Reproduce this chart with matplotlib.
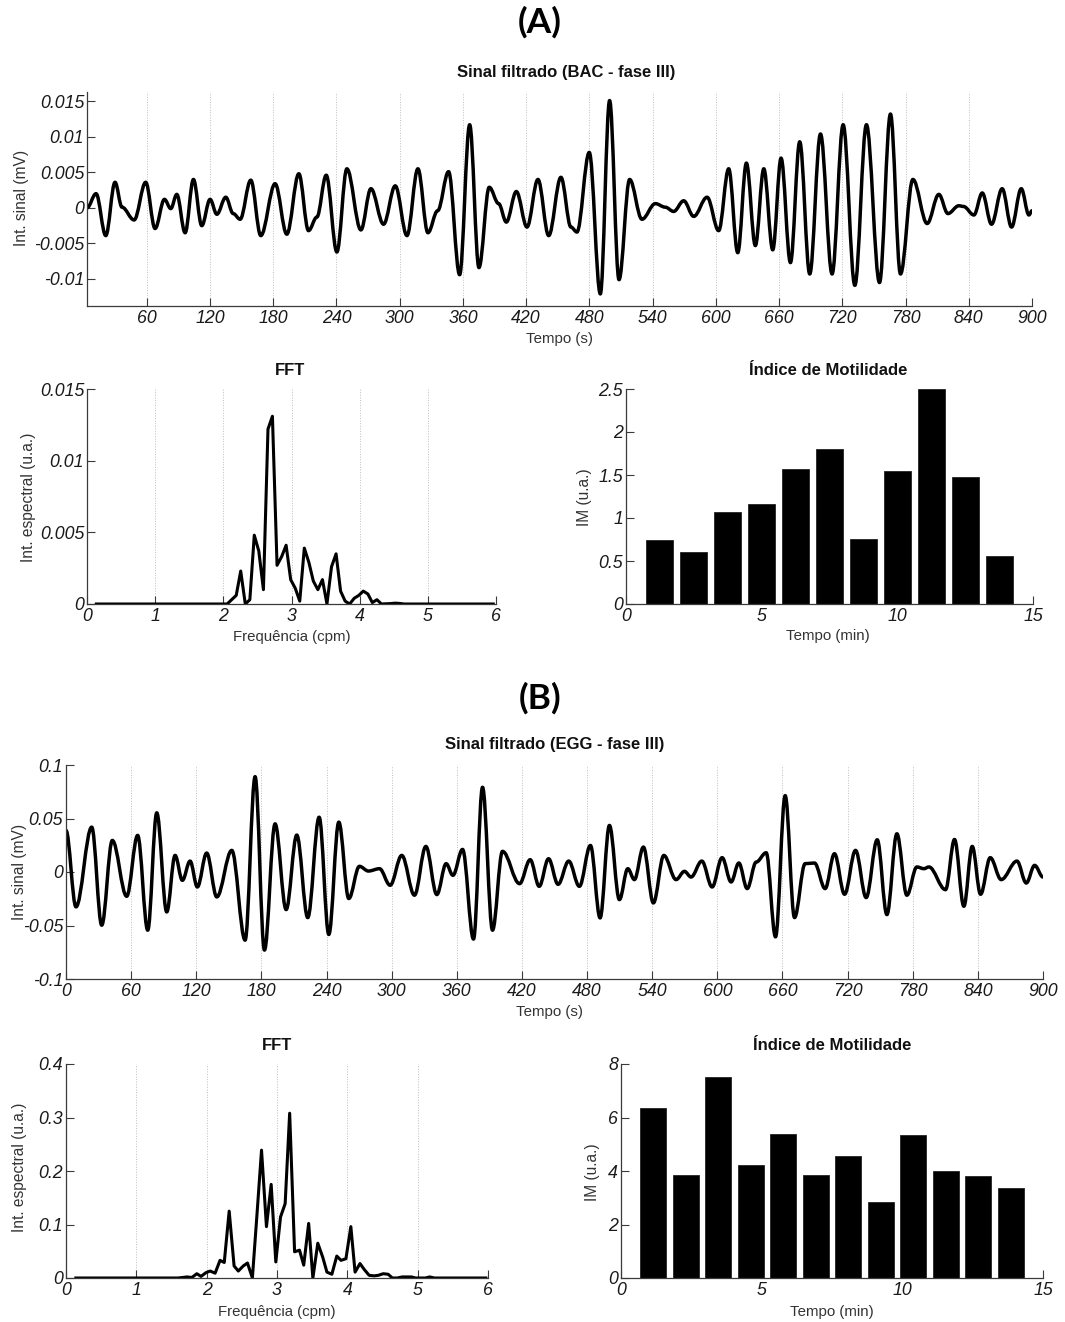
import matplotlib
matplotlib.use("Agg")
import matplotlib.pyplot as plt
from matplotlib.path import Path
from matplotlib.patches import PathPatch

plt.rcParams['font.family'] = ['Liberation Sans', 'DejaVu Sans']
plt.rcParams['axes.unicode_minus'] = False

# ---- (A) BAC - fase III : extremos do sinal filtrado (s, mV)
sig_a_t = [3.3, 11.9, 21.1, 29.9, 36.5, 48.0, 59.0, 67.9, 76.8, 82.8, 88.5, 96.4, 104.3, 112.2,
           120.1, 126.5, 135.0, 142.0, 148.6, 158.7, 168.2, 181.8, 192.9, 204.3, 213.5, 221.4,
           230.3, 240.4, 249.9, 263.2, 272.7, 284.7, 295.8, 306.9, 317.3, 326.8, 336.0, 346.4,
           356.9, 366.4, 375.2, 385.0, 393.9, 401.2, 410.7, 420.8, 431.2, 441.4, 453.0, 462.5,
           468.2, 479.9, 490.4, 499.2, 508.1, 518.2, 529.9, 542.6, 552.0, 560.0, 569.5, 579.0,
           591.7, 602.7, 612.2, 620.8, 629.0, 637.5, 645.5, 654.0, 661.9, 670.8, 679.6, 689.1,
           699.3, 710.3, 720.8, 731.9, 742.9, 755.3, 765.7, 775.2, 787.0, 800.5, 811.6, 820.2,
           830.6, 835.0, 844.9, 852.8, 861.6, 871.7, 880.6, 889.8, 897.1, 900.0]
sig_a_v = [0.0000, 0.0020, -0.0039, 0.0036, 0.0001, -0.0017, 0.0036, -0.0029, 0.0012, -0.0001,
           0.0019, -0.0035, 0.0040, -0.0025, 0.0012, -0.0009, 0.0015, -0.0008, -0.0016, 0.0039,
           -0.0039, 0.0034, -0.0037, 0.0048, -0.0032, -0.0013, 0.0046, -0.0062, 0.0055, -0.0031,
           0.0027, -0.0023, 0.0031, -0.0039, 0.0055, -0.0035, -0.0004, 0.0051, -0.0094, 0.0117,
           -0.0084, 0.0029, 0.0006, -0.0020, 0.0023, -0.0027, 0.0040, -0.0039, 0.0043, -0.0027,
           -0.0034, 0.0078, -0.0121, 0.0151, -0.0101, 0.0040, -0.0016, 0.0006, 0.0001, -0.0005,
           0.0010, -0.0012, 0.0015, -0.0032, 0.0055, -0.0063, 0.0063, -0.0053, 0.0055, -0.0059,
           0.0070, -0.0077, 0.0093, -0.0093, 0.0104, -0.0093, 0.0117, -0.0109, 0.0117, -0.0105,
           0.0132, -0.0093, 0.0040, -0.0022, 0.0019, -0.0008, 0.0003, 0.0002, -0.0010, 0.0021,
           -0.0023, 0.0027, -0.0027, 0.0027, -0.0010, -0.0004]

fft_a_f = [0.137, 1.989, 2.056, 2.122, 2.189, 2.255, 2.322, 2.389, 2.454, 2.52, 2.588, 2.655,
           2.72, 2.788, 2.855, 2.921, 2.988, 3.055, 3.121, 3.188, 3.255, 3.32, 3.387, 3.454,
           3.52, 3.587, 3.654, 3.72, 3.787, 3.853, 3.92, 3.987, 4.053, 4.12, 4.186, 4.253,
           4.32, 4.453, 4.52, 4.587, 4.653, 5.96]
fft_a_v = [0.0, 0.0, 0.0, 0.0003, 0.0006, 0.0023, 0.0, 0.0003, 0.0048, 0.0037, 0.0010, 0.0122,
           0.0131, 0.0027, 0.0033, 0.0041, 0.0017, 0.0011, 0.0002, 0.0039, 0.0029, 0.0016,
           0.0010, 0.0017, 0.0, 0.0026, 0.0035, 0.0009, 0.0002, 0.0, 0.0004, 0.0006, 0.0009,
           0.0007, 0.0001, 0.0003, 0.0, 0.00003, 0.00006, 0.00004, 0.0, 0.0]

im_a_t = [1.25, 2.5, 3.75, 5.0, 6.25, 7.5, 8.75, 10.0, 11.25, 12.5, 13.75]
im_a_v = [0.745, 0.609, 1.068, 1.161, 1.564, 1.797, 0.761, 1.545, 2.496, 1.471, 0.563]

# ---- (B) EGG - fase III
sig_b_t = [0.0, 9.2, 23.7, 32.9, 42.7, 55.9, 66.0, 75.3, 83.6, 92.8, 100.5, 107.2, 114.3, 121.0,
           129.6, 138.9, 152.7, 165.0, 174.2, 182.8, 192.6, 202.8, 212.6, 222.7, 233.2, 242.1,
           251.3, 260.5, 270.3, 278.6, 288.8, 298.6, 309.3, 321.0, 331.5, 341.6, 350.2, 356.4,
           365.3, 375.4, 383.7, 392.9, 402.1, 417.8, 427.6, 435.9, 444.5, 453.3, 463.1, 472.9,
           483.1, 492.0, 500.6, 509.8, 517.5, 523.6, 531.9, 541.1, 550.7, 562.0, 569.7, 575.8,
           585.7, 595.2, 604.4, 612.7, 619.8, 627.5, 635.8, 645.0, 653.6, 662.5, 671.1, 680.9,
           689.5, 699.3, 707.9, 717.2, 727.3, 737.1, 747.3, 756.2, 765.4, 774.6, 783.8, 790.3,
           794.9, 810.2, 818.5, 827.1, 834.8, 842.5, 851.4, 861.5, 876.0, 884.6, 892.3, 900.0]
sig_b_v = [0.0388, -0.0326, 0.0419, -0.0497, 0.0295, -0.0227, 0.0342, -0.0544, 0.0553, -0.0373,
           0.0155, -0.0078, 0.0102, -0.0140, 0.0177, -0.0233, 0.0202, -0.0637, 0.0891, -0.0730,
           0.0450, -0.0351, 0.0345, -0.0426, 0.0512, -0.0584, 0.0466, -0.0248, 0.0053, 0.0009,
           0.0031, -0.0124, 0.0155, -0.0217, 0.0239, -0.0211, 0.0078, -0.0031, 0.0211, -0.0627,
           0.0792, -0.0544, 0.0193, -0.0109, 0.0115, -0.0134, 0.0124, -0.0115, 0.0102, -0.0134,
           0.0248, -0.0429, 0.0435, -0.0258, 0.0031, -0.0071, 0.0233, -0.0289, 0.0155, -0.0071,
           0.0006, -0.0047, 0.0102, -0.0140, 0.0134, -0.0093, 0.0084, -0.0155, 0.0093, 0.0180,
           -0.0606, 0.0714, -0.0426, 0.0078, 0.0084, -0.0155, 0.0171, -0.0208, 0.0202, -0.0239,
           0.0301, -0.0398, 0.0357, -0.0217, 0.0047, 0.0031, 0.0047, -0.0165, 0.0304, -0.0320,
           0.0239, -0.0208, 0.0134, -0.0071, 0.0102, -0.0103, 0.0062, -0.0047]

fft_b_f = [0.14, 1.59, 1.66, 1.72, 1.79, 1.86, 1.92, 1.99, 2.05, 2.12, 2.19, 2.25, 2.32, 2.39,
           2.45, 2.52, 2.58, 2.65, 2.716, 2.78, 2.85, 2.917, 2.983, 3.05, 3.116, 3.18, 3.25,
           3.32, 3.38, 3.45, 3.51, 3.58, 3.65, 3.71, 3.78, 3.85, 3.91, 3.98, 4.05, 4.11, 4.18,
           4.24, 4.31, 4.38, 4.44, 4.51, 4.58, 4.64, 4.71, 4.78, 4.84, 4.91, 4.97, 5.11, 5.17,
           5.24, 5.97]
fft_b_v = [0.0, 0.0, 0.001, 0.002, 0.001, 0.008, 0.003, 0.010, 0.013, 0.009, 0.033, 0.029, 0.125,
           0.0225, 0.013, 0.0225, 0.028, 0.0, 0.12, 0.239, 0.096, 0.175, 0.030, 0.114, 0.139,
           0.308, 0.049, 0.052, 0.024, 0.102, 0.0, 0.065, 0.039, 0.011, 0.007, 0.041, 0.033,
           0.036, 0.096, 0.011, 0.027, 0.016, 0.005, 0.004, 0.005, 0.008, 0.007, 0.0, 0.0,
           0.002, 0.002, 0.002, 0.0, 0.0, 0.002, 0.0, 0.0]

im_b_t = [1.15, 2.31, 3.46, 4.62, 5.77, 6.92, 8.08, 9.23, 10.38, 11.54, 12.69, 13.85]
im_b_v = [6.34, 3.85, 7.50, 4.21, 5.38, 3.84, 4.56, 2.85, 5.33, 4.01, 3.83, 3.36]

W, H = 1065, 1322
fig = plt.figure(figsize=(W / 100, H / 100), dpi=100)

SPINE = '#3a3a3a'
TICKFONT = dict(fontsize=12.8, style='italic', color='#1a1a1a')


def px_axes(left, top, right, bottom):
    return fig.add_axes([left / W, 1 - bottom / H, (right - left) / W, (bottom - top) / H])


def matlab_style(ax, xgrid=True):
    for s in ['top', 'right']:
        ax.spines[s].set_visible(False)
    for s in ['left', 'bottom']:
        ax.spines[s].set_color(SPINE)
        ax.spines[s].set_linewidth(0.9)
    ax.tick_params(direction='in', length=6, width=0.8, color=SPINE, pad=3)
    ax.tick_params(axis='y', pad=2)
    if xgrid:
        ax.grid(axis='x', linestyle=':', color='#bdbdbd', linewidth=0.7)
    ax.set_axisbelow(True)


def smooth_curve(ax, t, v, lw=2.5):
    # curva suave passando pelos extremos (tangente horizontal em cada ponto)
    verts = [(t[0], v[0])]
    codes = [Path.MOVETO]
    for i in range(len(t) - 1):
        dt = t[i + 1] - t[i]
        verts += [(t[i] + 0.36 * dt, v[i]), (t[i + 1] - 0.36 * dt, v[i + 1]), (t[i + 1], v[i + 1])]
        codes += [Path.CURVE4] * 3
    ax.add_patch(PathPatch(Path(verts, codes), fill=False, edgecolor='black', lw=lw,
                           capstyle='round', joinstyle='round'))


def label(x, y, s, **kw):
    fig.text(x / W, 1 - y / H, s, ha='center', va='center', **kw)


def ticklabels(ax, xt, xl, yt, yl):
    ax.set_xticks(xt)
    ax.set_xticklabels(xl, **TICKFONT)
    ax.set_yticks(yt)
    ax.set_yticklabels(yl, **TICKFONT)


TITLE = dict(fontsize=12, fontweight='bold', color='#111111')
XLAB = dict(fontsize=10.8, color='#333333')
YLAB = dict(fontsize=11.2, color='#333333', rotation=90)

# ======================= (A) =======================
label(540, 22, '(A)', fontsize=25.5, fontweight='bold', family=['Lato', 'DejaVu Sans'])

ax = px_axes(87, 92, 1032, 306)
matlab_style(ax)
smooth_curve(ax, sig_a_t, sig_a_v)
ax.set_xlim(3.3, 900)
ax.set_ylim(-0.0138, 0.0163)
xt = list(range(60, 901, 60))
ticklabels(ax, xt, [str(x) for x in xt],
           [-0.01, -0.005, 0, 0.005, 0.01, 0.015],
           ['-0.01', '-0.005', '0', '0.005', '0.01', '0.015'])
label(566, 73, 'Sinal filtrado (BAC - fase III)', **TITLE)
label(559, 339, 'Tempo (s)', **XLAB)
label(22, 198, 'Int. sinal (mV)', **YLAB)

ax = px_axes(87, 389, 496, 604)
matlab_style(ax)
ax.plot(fft_a_f, fft_a_v, color='black', lw=2.2, solid_joinstyle='round')
ax.set_xlim(0, 6)
ax.set_ylim(0, 0.015)
ticklabels(ax, range(7), [str(i) for i in range(7)],
           [0, 0.005, 0.01, 0.015], ['0', '0.005', '0.01', '0.015'])
label(290, 370, 'FFT', **TITLE)
label(292, 637, 'Frequência (cpm)', **XLAB)
label(28, 497, 'Int. espectral (u.a.)', **YLAB)

ax = px_axes(626, 389, 1033, 604)
matlab_style(ax, xgrid=False)
ax.bar(im_a_t, im_a_v, width=1.0, color='black', edgecolor='#222222', linewidth=0.6)
ax.set_xlim(0, 15)
ax.set_ylim(0, 2.5)
ticklabels(ax, [0, 5, 10, 15], ['0', '5', '10', '15'],
           [0, 0.5, 1, 1.5, 2, 2.5], ['0', '0.5', '1', '1.5', '2', '2.5'])
label(828, 370, 'Índice de Motilidade', **TITLE)
label(828, 636, 'Tempo (min)', **XLAB)
label(585, 497, 'IM (u.a.)', **YLAB)

# ======================= (B) =======================
label(540, 698, '(B)', fontsize=25.5, fontweight='bold', family=['Lato', 'DejaVu Sans'])

ax = px_axes(66, 765, 1043, 979)
matlab_style(ax)
smooth_curve(ax, sig_b_t, sig_b_v)
ax.set_xlim(0, 900)
ax.set_ylim(-0.1, 0.1)
xt = list(range(0, 901, 60))
ticklabels(ax, xt, [str(x) for x in xt],
           [-0.1, -0.05, 0, 0.05, 0.1], ['-0.1', '-0.05', '0', '0.05', '0.1'])
label(555, 745, 'Sinal filtrado (EGG - fase III)', **TITLE)
label(549, 1012, 'Tempo (s)', **XLAB)
label(20, 872, 'Int. sinal (mV)', **YLAB)

ax = px_axes(66, 1064, 488, 1278)
matlab_style(ax)
ax.plot(fft_b_f, fft_b_v, color='black', lw=2.2, solid_joinstyle='round')
ax.set_xlim(0, 6)
ax.set_ylim(0, 0.4)
ticklabels(ax, range(7), [str(i) for i in range(7)],
           [0, 0.1, 0.2, 0.3, 0.4], ['0', '0.1', '0.2', '0.3', '0.4'])
label(277, 1045, 'FFT', **TITLE)
label(277, 1312, 'Frequência (cpm)', **XLAB)
label(20, 1167, 'Int. espectral (u.a.)', **YLAB)

ax = px_axes(621, 1064, 1043, 1278)
matlab_style(ax, xgrid=False)
ax.bar(im_b_t, im_b_v, width=0.92, color='black', edgecolor='#222222', linewidth=0.6)
ax.set_xlim(0, 15)
ax.set_ylim(0, 8)
ticklabels(ax, [0, 5, 10, 15], ['0', '5', '10', '15'],
           [0, 2, 4, 6, 8], ['0', '2', '4', '6', '8'])
label(832, 1045, 'Índice de Motilidade', **TITLE)
label(832, 1312, 'Tempo (min)', **XLAB)
label(593, 1172, 'IM (u.a.)', **YLAB)

fig.savefig('out.png', dpi=100)
